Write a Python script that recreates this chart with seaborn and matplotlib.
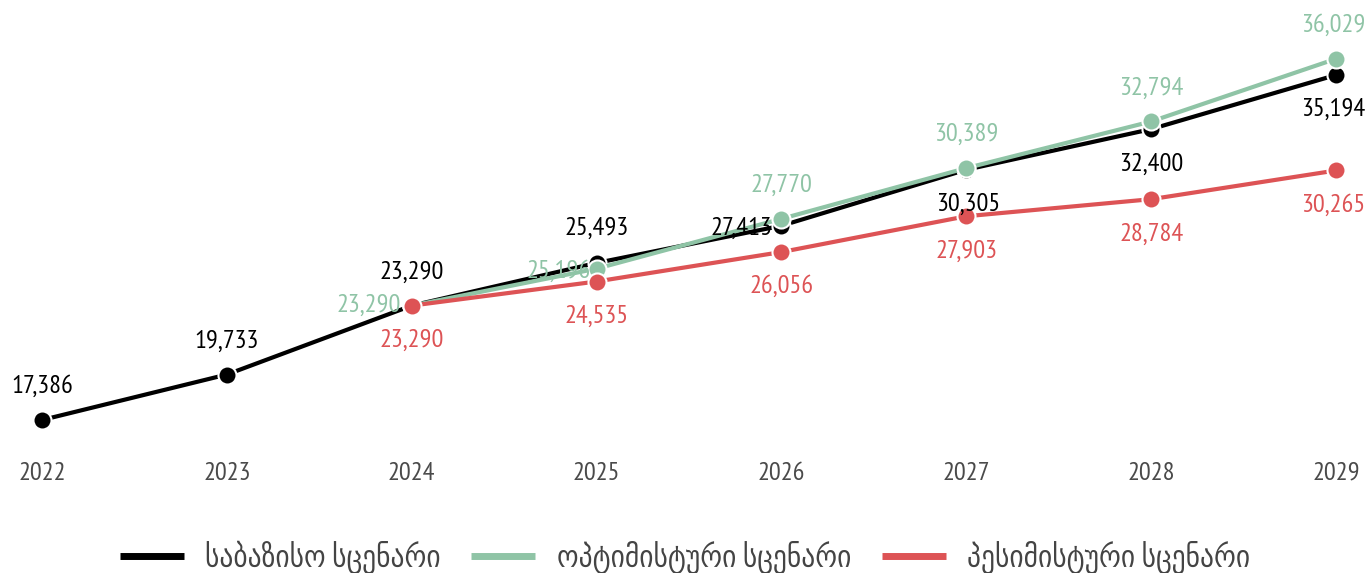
import pandas as pd
import matplotlib
matplotlib.use("Agg")
import matplotlib.pyplot as plt
import seaborn as sns

# chart data
years = [2022, 2023, 2024, 2025, 2026, 2027, 2028, 2029]
base = [17386, 19733, 23290, 25493, 27413, 30305, 32400, 35194]
opt_years = [2024, 2025, 2026, 2027, 2028, 2029]
optimistic = [23290, 25196, 27770, 30389, 32794, 36029]
pessimistic = [23290, 24535, 26056, 27903, 28784, 30265]
names = ["საბაზისო სცენარი", "ოპტიმისტური სცენარი", "პესიმისტური სცენარი"]
colors = ["#000000", "#8fc4a6", "#dd5355"]

sns.set_style("white")
plt.rcParams["font.family"] = ["PT Sans Narrow", "DejaVu Sans"]

df = pd.concat([
    pd.DataFrame({"year": years, "value": base, "scenario": names[0]}),
    pd.DataFrame({"year": opt_years, "value": optimistic, "scenario": names[1]}),
    pd.DataFrame({"year": opt_years, "value": pessimistic, "scenario": names[2]}),
])

fig = plt.figure(figsize=(13.7, 5.73), dpi=100)
W, H = 1370, 573
ax = fig.add_axes([42 / W, (H - 420) / H, (1336 - 42) / W, (420 - 75) / H])

sns.lineplot(data=df, x="year", y="value", hue="scenario", palette=colors,
             marker="o", markersize=13, markeredgecolor="white", markeredgewidth=1.5,
             linewidth=3, ax=ax, legend=False, clip_on=False)

ax.set_xlim(2022, 2029)
ax.set_ylim(17386, 35194)
ax.set_xticks(years)
ax.set_xticklabels([str(y) for y in years])
ax.tick_params(axis="x", length=0, pad=30, labelsize=19, labelcolor="#4a4a4a")
ax.set_yticks([])
ax.set_xlabel("")
ax.set_ylabel("")
for s in ax.spines.values():
    s.set_visible(False)

fs = 19

def label(x, y, txt, color, dx, dy):
    ax.annotate(txt, (x, y), xytext=(dx, dy), textcoords="offset points",
                ha="center", va="center", color=color, fontsize=fs, annotation_clip=False)

fmt = lambda v: f"{v:,}"

# base labels
base_pos = {2022: (0, 24), 2023: (0, 24), 2024: (0, 24), 2025: (0, 25),
            2026: (-29, -2), 2027: (1, -25), 2028: (0, -25), 2029: (-2, -25)}
for x, v in zip(years, base):
    dx, dy = base_pos[x]
    label(x, v, fmt(v), colors[0], dx, dy)

# optimistic labels
opt_pos = {2024: (-31, 0), 2025: (-27, -2), 2026: (0, 24), 2027: (0, 24),
           2028: (0, 24), 2029: (-2, 24)}
for x, v in zip(opt_years, optimistic):
    dx, dy = opt_pos[x]
    label(x, v, fmt(v), colors[1], dx, dy)

# pessimistic labels
for x, v in zip(opt_years, pessimistic):
    dx = -2 if x == 2029 else 0
    label(x, v, fmt(v), colors[2], dx, -25)

handles = [plt.Line2D([], [], color=c, linewidth=5, solid_capstyle="butt") for c in colors]
fig.legend(handles, names, loc="center", bbox_to_anchor=(0.5, 1 - 557 / H),
           ncol=3, frameon=False, handlelength=2.1,
           prop={"family": ["PT Sans Narrow", "DejaVu Sans"], "stretch": "condensed", "size": 22},
           columnspacing=1.0, handletextpad=0.7, labelcolor="#444444")

fig.savefig("out.png", dpi=100)
